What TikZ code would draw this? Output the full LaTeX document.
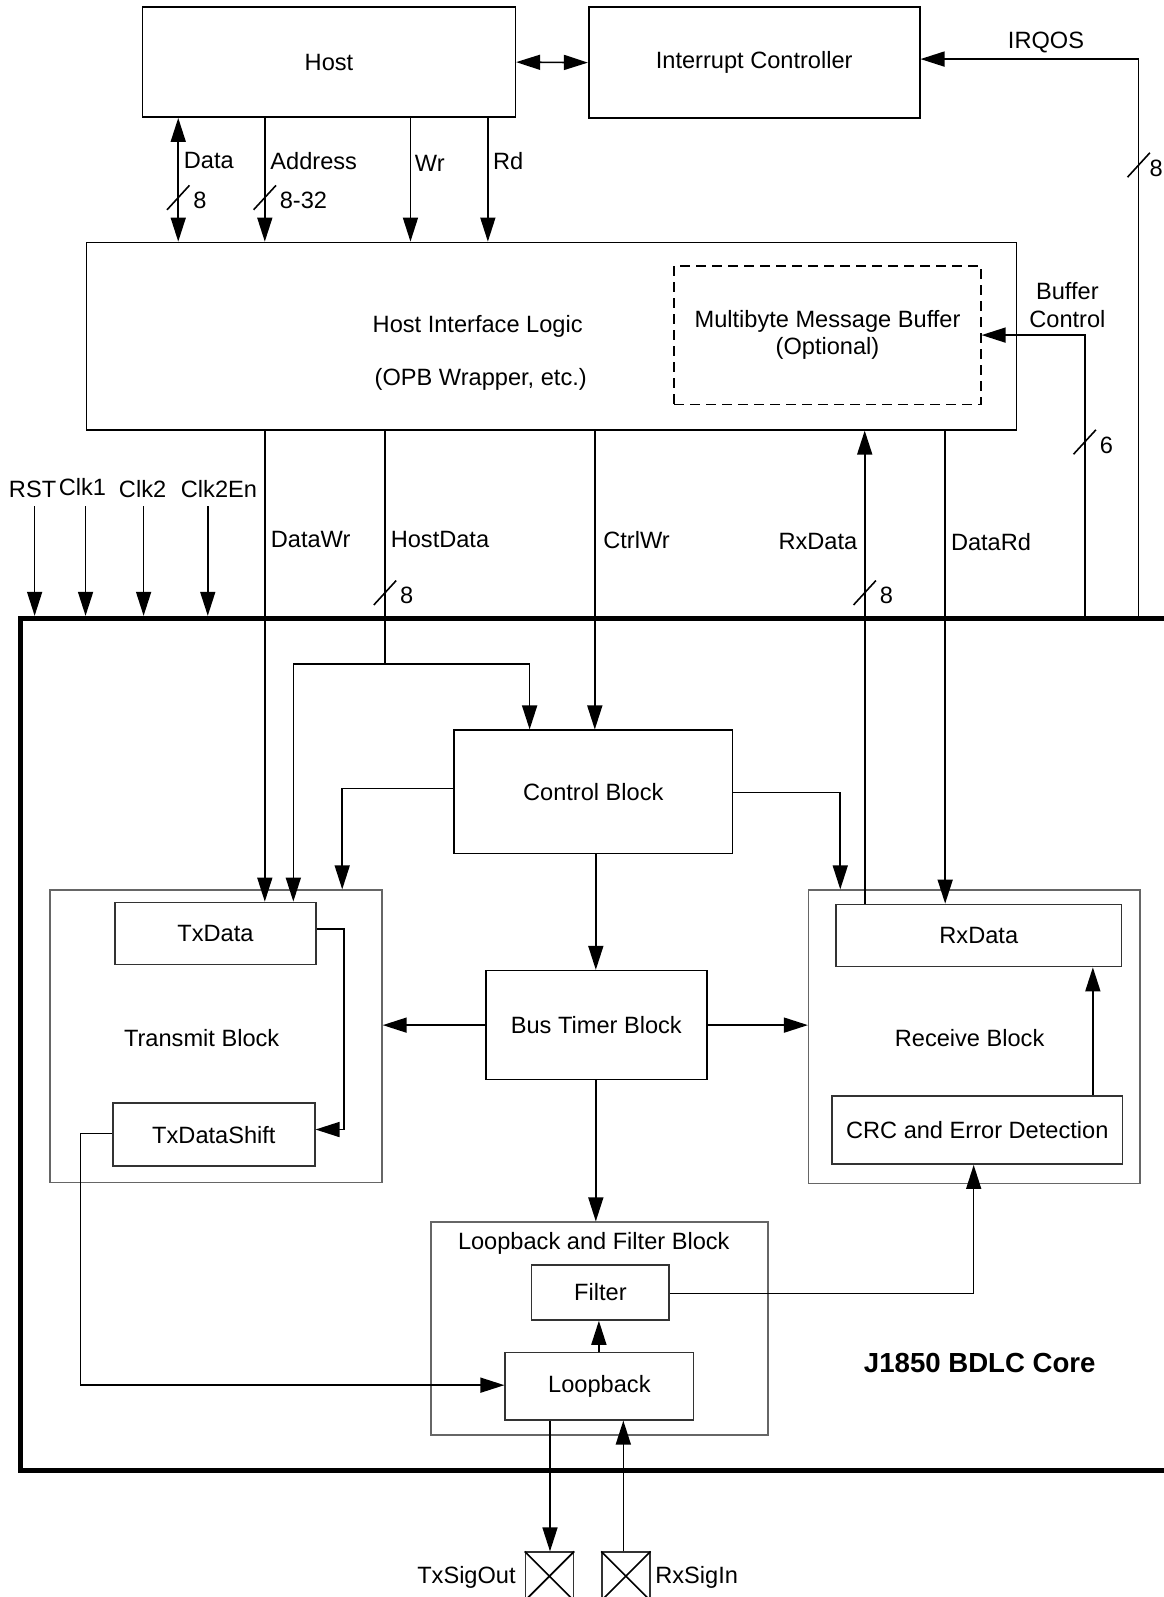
\documentclass[tikz,border=0pt]{standalone}
\usepackage{fontspec}
\setmainfont{Liberation Sans}
\usetikzlibrary{arrows.meta,fit}

\tikzset{
  blk/.style={draw=black, inner sep=0pt},
  subblk/.style={draw=black!60, inner sep=0pt},
  unit/.style={draw=black!80, inner sep=0pt},
  lbl/.style={inner sep=0pt},
  arr/.style={-{Triangle[length=12pt,width=7.5pt]}},
  dbl/.style={{Triangle[length=12pt,width=7.5pt]}-{Triangle[length=12pt,width=7.5pt]}},
}

\begin{document}
\begin{tikzpicture}[x=0.5092pt, y=-0.5092pt, line width=0.8pt,
    every node/.style={font=\fontsize{11.8}{13.8}\selectfont}]
\useasboundingbox (0,0) rectangle (1142,1568);

% top blocks
\node[blk, fit={(140,7) (506,115)}, label=center:Host] (host) {};
\node[blk, fit={(578,7) (903,116)}, label=center:Interrupt Controller] (intc) {};
\node[blk, fit={(85,238) (998,422)}] (hil) {};
\node[lbl] (hilA) at (469,320) {Host Interface Logic};
\node[lbl] (hilB) at (472,373) {(OPB Wrapper, etc.)};
\node[blk, dash pattern=on 5pt off 3pt, fit={(662,261) (963,397)},
  label={[align=center]center:Multibyte Message Buffer\\(Optional)}] (mmb) {};

% core
\node[draw, line width=2.4pt, inner sep=0pt, fit={(20,607) (1145,1444)}] (core) {};
\node[lbl, font=\fontsize{13.8}{16}\selectfont\bfseries] (corelbl) at (962,1338) {J1850 BDLC Core};

\node[subblk, fit={(49,874) (375,1161)}] (txblk) {};
\node[lbl] (txlbl) at (198,1019) {Transmit Block};
\node[subblk, fit={(794,874) (1119,1162)}] (rxblk) {};
\node[lbl] (rxlbl) at (952,1019) {Receive Block};
\node[subblk, fit={(423,1200) (754,1409)}] (lfblk) {};
\node[lbl] (lflbl) at (583,1221) {Loopback and Filter Block};

\node[blk, fit={(446,717) (719,838)}, label=center:Control Block] (ctrl) {};
\node[blk, fit={(477,953) (694,1060)}, label=center:Bus Timer Block] (bus) {};
\node[unit, fit={(113,886) (310,947)}, label=center:TxData] (txdata) {};
\node[unit, fit={(111,1083) (309,1145)}, label=center:TxDataShift] (txshift) {};
\node[unit, fit={(821,888) (1101,949)}, label=center:RxData] (rxdata) {};
\node[unit, fit={(817,1076) (1102,1143)}, label=center:CRC and Error Detection] (crc) {};
\node[unit, fit={(522,1242) (657,1296)}, label=center:Filter] (filter) {};
\node[unit, fit={(496,1328) (681,1394)}, label=center:Loopback] (loop) {};

% pads
\node[unit, fit={(516,1524) (563,1571)}] (txpad) {};
\node[unit, fit={(591,1524) (638,1571)}] (rxpad) {};
\draw (txpad.north west) -- (txpad.south east) (txpad.north east) -- (txpad.south west);
\draw (rxpad.north west) -- (rxpad.south east) (rxpad.north east) -- (rxpad.south west);
\node[lbl] (txpadlbl) at (458,1549) {TxSigOut};
\node[lbl] (rxpadlbl) at (684,1549) {RxSigIn};

% x positions of the buses
\coordinate (xData) at (175,0);
\coordinate (xAddr) at (260,0);
\coordinate (xWr) at (403,0);
\coordinate (xRd) at (479,0);
\coordinate (xDataWr) at (260,0);
\coordinate (xCtrl) at (584,0);
\coordinate (xRxUp) at (849,0);
\coordinate (xDataRd) at (928,0);
\coordinate (xBus) at (585,0);
\coordinate (xLF) at (588,0);
\coordinate (xCR) at (1073,0);
\coordinate (xTx) at (540,0);
\coordinate (xRx) at (612,0);

% host side
\draw[dbl] (host.east) -- (intc.west);
\draw[dbl] (host.south -| xData) -- (hil.north -| xData);
\draw[arr] (host.south -| xAddr) -- (hil.north -| xAddr);
\draw[arr] (host.south -| xWr) -- (hil.north -| xWr);
\draw[arr] (host.south -| xRd) -- (hil.north -| xRd);
\node[lbl] (dataLbl) at (205,158) {Data};
\node[lbl] (addrLbl) at (308,158) {Address};
\node[lbl] (wrLbl) at (422,160) {Wr};
\node[lbl] (rdLbl) at (499,158) {Rd};

\coordinate (irqTop) at (1118,58);
\draw[arr] (irqTop |- core.north) -- (irqTop) -- (irqTop -| intc.east);
\node[lbl] (irqLbl) at (1027,42) {IRQOS};

\coordinate (bcTop) at (1065,329);
\draw[arr] (bcTop |- core.north) -- (bcTop) -- (bcTop -| mmb.east);
\node[lbl, align=center] (bcLbl) at (1048,299.5) {Buffer\\Control};

% clocks and reset
\foreach \x/\n/\t/\lx/\ly in {34/rst/RST/32/480, 84/clka/Clk1/81/478, 141/clkb/Clk2/140/480, 204/clkc/Clk2En/215/480} {
  \coordinate (\n) at (\x,497);
  \draw[arr] (\n) -- (\n |- core.north);
  \node[lbl] (\n-lbl) at (\lx,\ly) {\t};
}

% host interface to core
\draw[arr] (hil.south -| xDataWr) -- (txdata.north -| xDataWr);
\node[lbl] (dwLbl) at (305,530) {DataWr};
\coordinate (hdJ) at (378,652);
\coordinate (hdL) at (288,652);
\coordinate (hdR) at (520,652);
\draw (hil.south -| hdJ) -- (hdJ);
\draw[arr] (hdJ) -| (txdata.north -| hdL);
\draw[arr] (hdJ) -| (ctrl.north -| hdR);
\node[lbl] (hdLbl) at (432,530) {HostData};
\draw[arr] (hil.south -| xCtrl) -- (ctrl.north -| xCtrl);
\node[lbl] (cwLbl) at (625,530) {CtrlWr};
\draw[arr] (rxdata.north -| xRxUp) -- (hil.south -| xRxUp);
\node[lbl] (rxLbl) at (803,532) {RxData};
\draw[arr] (hil.south -| xDataRd) -- (rxdata.north -| xDataRd);
\node[lbl] (drLbl) at (973,532) {DataRd};

% bus width marks
\foreach \p/\x/\y/\t in {sData/175/194/8, sAddr/260/194/8-32, sHost/378/582/8, sRx/849/582/8, sBuf/1065/434/6} {
  \coordinate (\p) at (\x,\y);
  \draw ([shift={(-11,12)}]\p) -- ([shift={(11,-12)}]\p);
  \node[lbl, anchor=west] (\p-lbl) at ([shift={(14,3)}]\p) {\t};
}
\coordinate (sIrq) at (1118,162);
\draw ([shift={(-11,12)}]sIrq) -- ([shift={(11,-12)}]sIrq);
\node[lbl, anchor=west] (sIrq-lbl) at ([shift={(10,3)}]sIrq) {8};

% inside the core
\coordinate (cl) at (336,774);
\draw[arr] (cl -| ctrl.west) -- (cl) -- (cl |- txblk.north);
\coordinate (cr) at (825,778);
\draw[arr] (cr -| ctrl.east) -- (cr) -- (cr |- rxblk.north);
\draw[arr] (ctrl.south -| xBus) -- (bus.north -| xBus);
\draw[arr] (bus.west) -- (bus.west -| txblk.east);
\draw[arr] (bus.east) -- (bus.east -| rxblk.west);
\draw[arr] (bus.south -| xBus) -- (lfblk.north -| xBus);

\coordinate (tt) at (338,912);
\coordinate (tb) at (338,1109);
\draw[arr] (tt -| txdata.east) -- (tt) -- (tb) -- (tb -| txshift.east);
\coordinate (sl) at (79,1113);
\coordinate (slb) at (79,1360);
\draw[arr] (sl -| txshift.west) -- (sl) -- (slb) -- (slb -| loop.west);

\draw[arr] (loop.north -| xLF) -- (filter.south -| xLF);
\coordinate (fc) at (956,1270);
\draw[arr] (fc -| filter.east) -- (fc) -- (fc |- crc.south);
\draw[arr] (crc.north -| xCR) -- (rxdata.south -| xCR);

\draw[arr] (loop.south -| xTx) -- (txpad.north -| xTx);
\draw[arr] (rxpad.north -| xRx) -- (loop.south -| xRx);
\end{tikzpicture}
\end{document}
